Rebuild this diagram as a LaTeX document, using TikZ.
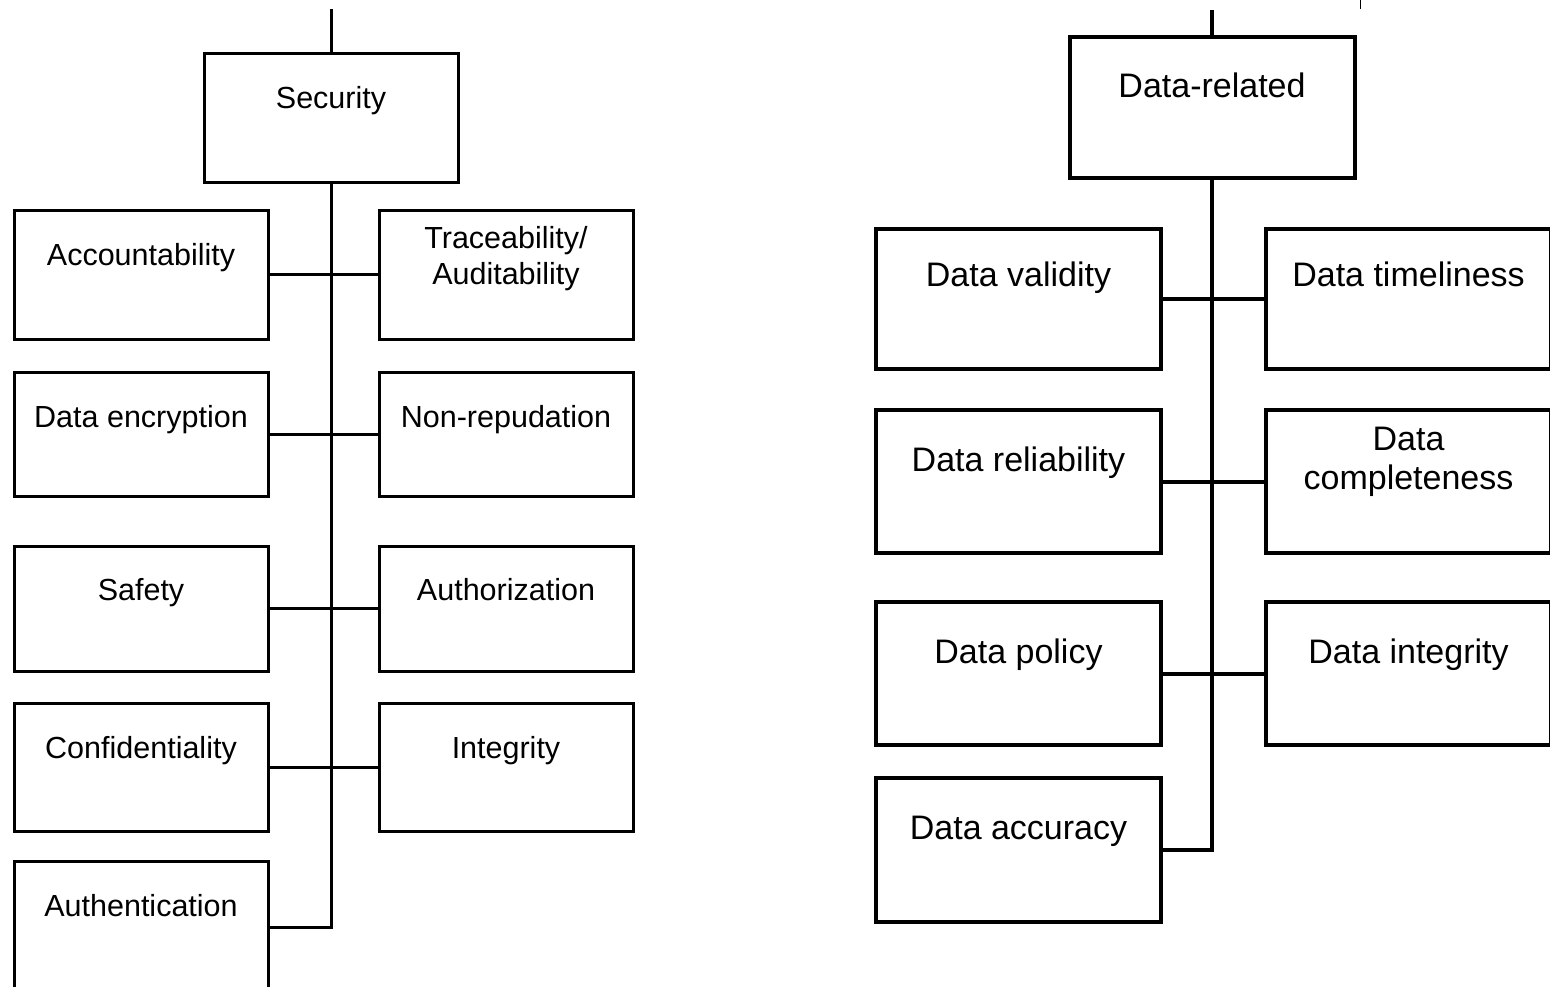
\documentclass[tikz,border=0pt]{standalone}
\usepackage{fontspec}
\setmainfont{Liberation Sans}
\begin{document}
\begin{tikzpicture}[x=1pt,y=-1pt,
  lbox/.style={draw=black,line width=3pt,rectangle,inner sep=0pt,minimum width=254pt,fill=white},
  rbox/.style={draw=black,line width=4pt,rectangle,inner sep=0pt,minimum width=285pt,fill=white},
  ltxt/.style={inner sep=0pt,font=\fontsize{30.5}{36}\selectfont,align=center},
  rtxt/.style={inner sep=0pt,font=\fontsize{34}{39}\selectfont,align=center},
  lline/.style={line width=3pt,line cap=butt},
  rline/.style={line width=4pt,line cap=butt}]
\clip (0,0) rectangle (1550,986);
\fill[white] (0,0) rectangle (1550,986);

% ---------- left tree: Security ----------
\coordinate (secTop) at (331,9);
\coordinate (tick) at (1360,0);
\coordinate (tickEnd) at (1360,9);

\node[lbox,minimum height=129pt] (sec) at (331,117.5) {};
\node[lbox,minimum height=129pt] (acc) at (141,274.5) {};
\node[lbox,minimum height=129pt] (tra) at (506,274.5) {};
\node[lbox,minimum height=124pt] (enc) at (141,434) {};
\node[lbox,minimum height=124pt] (non) at (506,434) {};
\node[lbox,minimum height=125pt] (saf) at (141,608.5) {};
\node[lbox,minimum height=125pt] (aut) at (506,608.5) {};
\node[lbox,minimum height=128pt] (con) at (141,767) {};
\node[lbox,minimum height=128pt] (int) at (506,767) {};
\node[lbox,minimum height=132pt] (ath) at (141,927) {};

\draw[lline] (secTop) -- (sec.north);
\draw[lline] (sec.south) -- (sec.south |- ath.east) -- (ath.east);
\draw[lline] (acc.east) -- (tra.west);
\draw[lline] (enc.east) -- (non.west);
\draw[lline] (saf.east) -- (aut.west);
\draw[lline] (con.east) -- (int.west);
\draw[line width=1pt] (tick) -- (tickEnd);

\node[ltxt,anchor=base] (secT) at (331,108) {Security};
\node[ltxt,anchor=base] (accT) at (141,265) {Accountability};
\node[ltxt,anchor=center] (traT) at (506,259) {Traceability/\\Auditability};
\node[ltxt,anchor=base] (encT) at (141,427) {Data encryption};
\node[ltxt,anchor=base] (nonT) at (506,427) {Non-repudation};
\node[ltxt,anchor=base] (safT) at (141,600) {Safety};
\node[ltxt,anchor=base] (autT) at (506,600) {Authorization};
\node[ltxt,anchor=base] (conT) at (141,758) {Confidentiality};
\node[ltxt,anchor=base] (intT) at (506,758) {Integrity};
\node[ltxt,anchor=base] (athT) at (141,916) {Authentication};

% ---------- right tree: Data-related ----------
\coordinate (drTop) at (1212,10);
\node[rbox,minimum height=141pt] (dr) at (1212,107.5) {};
\node[rbox,minimum height=140pt] (val) at (1018.5,299) {};
\node[rbox,minimum height=140pt] (tim) at (1408.5,299) {};
\node[rbox,minimum height=143pt] (rel) at (1018.5,481.5) {};
\node[rbox,minimum height=143pt] (com) at (1408.5,481.5) {};
\node[rbox,minimum height=143pt] (pol) at (1018.5,673.5) {};
\node[rbox,minimum height=143pt] (din) at (1408.5,673.5) {};
\node[rbox,minimum height=144pt] (dac) at (1018.5,850) {};

\draw[rline] (drTop) -- (dr.north);
\draw[rline] (dr.south) -- (dr.south |- dac.east) -- (dac.east);
\draw[rline] (val.east) -- (tim.west);
\draw[rline] (rel.east) -- (com.west);
\draw[rline] (pol.east) -- (din.west);

\node[rtxt,anchor=base] (drT) at (1212,97) {Data-related};
\node[rtxt,anchor=base] (valT) at (1018.5,286) {Data validity};
\node[rtxt,anchor=base] (timT) at (1408.5,286) {Data timeliness};
\node[rtxt,anchor=base] (relT) at (1018.5,471) {Data reliability};
\node[rtxt,anchor=center] (comT) at (1408.5,461.5) {Data\\completeness};
\node[rtxt,anchor=base] (polT) at (1018.5,663) {Data policy};
\node[rtxt,anchor=base] (dinT) at (1408.5,663) {Data integrity};
\node[rtxt,anchor=base] (dacT) at (1018.5,839) {Data accuracy};
\end{tikzpicture}
\end{document}
